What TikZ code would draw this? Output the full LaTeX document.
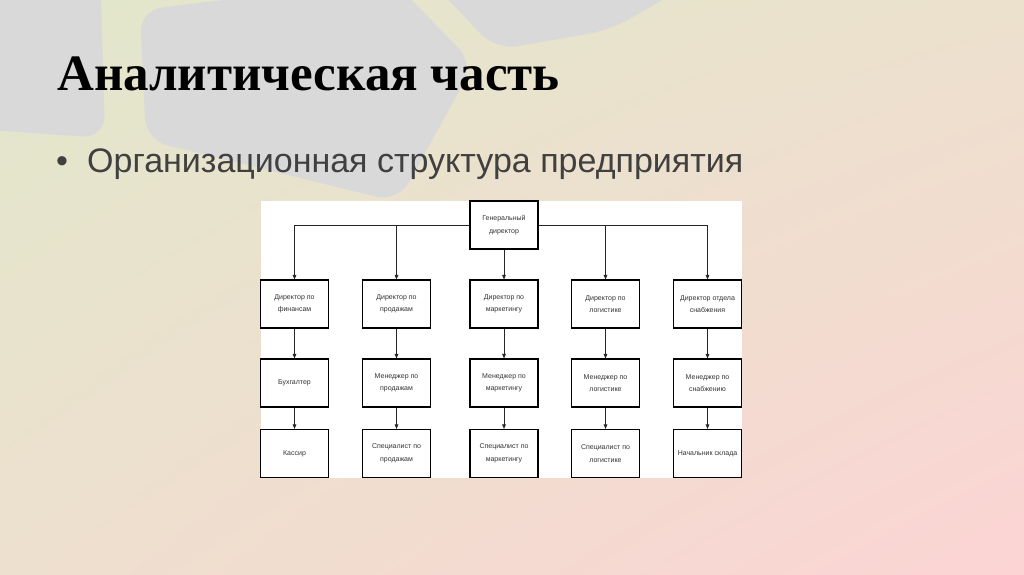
\documentclass[tikz,border=0pt]{standalone}
\usepackage{fontspec}
\usepackage{xcolor}
\setmainfont{Liberation Sans}
\newfontfamily\titlefont{Liberation Serif}
\usetikzlibrary{arrows.meta,shadings}

\definecolor{bgTL}{RGB}{225,231,203}
\definecolor{bgTR}{RGB}{236,225,205}
\definecolor{bgBL}{RGB}{237,224,206}
\definecolor{bgBR}{RGB}{252,212,212}
\definecolor{blobgray}{RGB}{217,217,217}
\definecolor{bodytext}{RGB}{64,64,64}

\begin{document}
\begin{tikzpicture}[x=1pt,y=-1pt,
    blob/.style={fill=blobgray,rounded corners=22pt},
    box/.style={draw=black,line width=1.1pt,fill=white,minimum width=68pt,minimum height=48pt,
      align=center,inner sep=2pt,text=black!80,font=\fontsize{7}{12.5}\selectfont},
    link/.style={draw=black!85,line width=0.8pt,-{Triangle[length=4.5pt,width=3.6pt]}}]
  % Background
  \useasboundingbox (0,0) rectangle (1024,574);
  \shade[upper left=bgTL,upper right=bgTR,lower left=bgBL,lower right=bgBR] (0,0) rectangle (1024,574);
  \begin{scope}
    \clip (0,0) rectangle (1024,574);
    \fill[blob] (-40,-40) -- (100,-40) -- (105,138) -- (-40,128) -- cycle;
    \fill[blob] (140,10) -- (392,-20) -- (474,64) -- (398,202) -- (146,140) -- cycle;
    \fill[blob] (420,-30) -- (496,50) -- (610,30) -- (715,-30) -- cycle;
  \end{scope}

  % Title and bullet
  \node[anchor=base west,inner sep=0pt,font=\titlefont\bfseries\fontsize{51}{60}\selectfont] (title) at (57,90) {Аналитическая часть};
  \node[anchor=base west,inner sep=0pt,text=bodytext,font=\fontsize{34}{40}\selectfont] (dot) at (56,172) {•};
  \node[anchor=base west,inner sep=0pt,text=bodytext,font=\fontsize{34}{40}\selectfont] (sub) at (87,172) {Организационная структура предприятия};

  % Chart area
  \fill[white] (261,201) rectangle (742,478);

  % Nodes
  \node[box] (gd) at (504,225) {Генеральный\\директор};
  \node[box] (d1) at (294.5,304) {Директор по\\финансам};
  \node[box] (d2) at (396.5,304) {Директор по\\продажам};
  \node[box] (d3) at (504,304) {Директор по\\маркетингу};
  \node[box] (d4) at (605.5,304) {Директор по\\логистике};
  \node[box] (d5) at (707.5,304) {Директор отдела\\снабжения};
  \node[box] (m1) at (294.5,383) {Бухгалтер};
  \node[box] (m2) at (396.5,383) {Менеджер по\\продажам};
  \node[box] (m3) at (504,383) {Менеджер по\\маркетингу};
  \node[box] (m4) at (605.5,383) {Менеджер по\\логистике};
  \node[box] (m5) at (707.5,383) {Менеджер по\\снабжению};
  \node[box] (s1) at (294.5,453.5) {Кассир};
  \node[box] (s2) at (396.5,453.5) {Специалист по\\продажам};
  \node[box] (s3) at (504,453.5) {Специалист по\\маркетингу};
  \node[box] (s4) at (605.5,453.5) {Специалист по\\логистике};
  \node[box] (s5) at (707.5,453.5) {Начальник склада};

  % Edges
  \draw[link] (gd.west) -| (d1);
  \draw[link] (gd.east) -| (d5);
  \draw[link] (d2 |- gd.west) -- (d2);
  \draw[link] (d4 |- gd.east) -- (d4);
  \draw[link] (gd) -- (d3);
  \foreach \i in {1,...,5} {
    \draw[link] (d\i) -- (m\i);
    \draw[link] (m\i) -- (s\i);
  }
\end{tikzpicture}
\end{document}
